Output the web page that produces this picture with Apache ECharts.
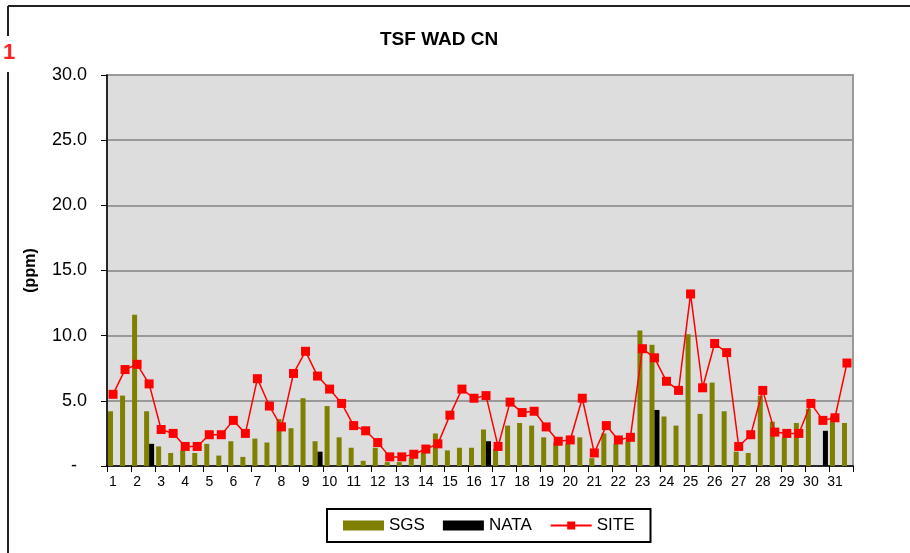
<!DOCTYPE html>
<html lang="en">
<head>
<meta charset="UTF-8"/>
<script src="https://cdn.jsdelivr.net/npm/echarts@6/dist/echarts.min.js"></script>
<title>TSF WAD CN</title>
<style>
  html, body { margin: 0; padding: 0; background: #fff; }
</style>
</head>
<body>
<div id="main" style="width:910px; height:553px;"></div>
<script type="text/javascript">
    // day labels (two samples per day)
    var days = ['1','2','3','4','5','6','7','8','9','10','11','12','13','14','15','16',
                '17','18','19','20','21','22','23','24','25','26','27','28','29','30','31'];

    var sgs = [4.2, 5.4, 11.6, 4.2, 1.5, 1.0, 1.2, 1.0, 1.7, 0.8,
               1.9, 0.7, 2.1, 1.8, 3.6, 2.9, 5.2, 1.9, 4.6, 2.2,
               1.4, 0.4, 1.4, 0.3, 0.3, 0.6, 1.0, 2.5, 1.2, 1.4,
               1.4, 2.8, 1.3, 3.1, 3.3, 3.1, 2.2, 1.8, 1.7, 2.2,
               0.6, 2.5, 1.7, 1.9, 10.4, 9.3, 3.8, 3.1, 10.1, 4.0,
               6.4, 4.2, 1.1, 1.0, 5.4, 3.4, 2.2, 3.3, 4.4, null,
               3.8, 3.3];

    var nata = [null, null, null, 1.7, null, null, null, null, null, null,
                null, null, null, null, null, null, null, 1.1, null, null,
                null, null, null, null, null, null, null, null, null, null,
                null, 1.9, null, null, null, null, null, null, null, null,
                null, null, null, null, null, 4.3, null, null, null, null,
                null, null, null, null, null, null, null, null, null, 2.7,
                null, null];

    var site = [5.5, 7.4, 7.8, 6.3, 2.8, 2.5, 1.5, 1.5, 2.4, 2.4,
                3.5, 2.5, 6.7, 4.6, 3.0, 7.1, 8.8, 6.9, 5.9, 4.8,
                3.1, 2.7, 1.8, 0.7, 0.7, 0.9, 1.3, 1.7, 3.9, 5.9,
                5.2, 5.4, 1.5, 4.9, 4.1, 4.2, 3.0, 1.9, 2.0, 5.2,
                1.0, 3.1, 2.0, 2.2, 9.0, 8.3, 6.5, 5.8, 13.2, 6.0,
                9.4, 8.7, 1.5, 2.4, 5.8, 2.6, 2.5, 2.5, 4.8, 3.5,
                3.7, 7.9];

    var categories = [];
    for (var i = 0; i < days.length; i++) {
        categories.push(days[i], days[i]);
    }

    var font = 'Liberation Sans, Arial, sans-serif';
    var myChart = echarts.init(document.getElementById('main'));

    var option = {
        animation: false,
        backgroundColor: '#ffffff',
        textStyle: { fontFamily: font },
        title: {
            text: 'TSF WAD CN',
            left: 380,
            top: 30,
            padding: 0,
            textStyle: { fontSize: 19, fontWeight: 'bold', color: '#000', fontFamily: font }
        },
        legend: {
            left: 327,
            top: 509,
            padding: [8, 16, 8, 16],
            itemGap: 18,
            itemWidth: 41,
            itemHeight: 10,
            borderColor: '#000',
            borderWidth: 2,
            textStyle: { fontSize: 17, color: '#000', fontFamily: font },
            data: [{ name: 'SGS', icon: 'rect' }, { name: 'NATA', icon: 'rect' }, 'SITE']
        },
        grid: {
            left: 107,
            right: 57,
            top: 75,
            bottom: 87,
            show: true,
            backgroundColor: '#dddddd',
            borderColor: '#999999',
            borderWidth: 2
        },
        xAxis: {
            type: 'category',
            data: categories,
            boundaryGap: true,
            axisLine: { show: true, lineStyle: { color: '#000', width: 1.5 } },
            axisTick: { show: true, interval: 1, alignWithLabel: false, length: 6, lineStyle: { color: '#000' } },
            axisLabel: { interval: 1, margin: 9, fontSize: 14, color: '#000', fontFamily: font },
            splitLine: { show: false }
        },
        yAxis: {
            type: 'value',
            min: 0,
            max: 30,
            interval: 5,
            name: '(ppm)',
            nameLocation: 'middle',
            nameRotate: 90,
            nameGap: 68,
            nameTextStyle: { fontSize: 16, fontWeight: 'bold', color: '#000', fontFamily: font },
            axisLine: { show: true, lineStyle: { color: '#000', width: 1.5 } },
            axisTick: { show: true, length: 6, lineStyle: { color: '#000' } },
            axisLabel: {
                margin: 20,
                fontSize: 18,
                color: '#000',
                fontFamily: font,
                formatter: function (v) { return v === 0 ? '-  ' : v.toFixed(1); }
            },
            splitLine: { show: true, lineStyle: { color: '#999999', width: 2 } }
        },
        series: [
            {
                name: 'SGS',
                type: 'bar',
                data: sgs,
                barWidth: 5,
                barGap: '0%',
                itemStyle: { color: '#808000' }
            },
            {
                name: 'NATA',
                type: 'bar',
                data: nata,
                barWidth: 5,
                barGap: '0%',
                itemStyle: { color: '#000000' }
            },
            {
                name: 'SITE',
                type: 'line',
                data: site,
                symbol: 'rect',
                symbolSize: 9,
                showAllSymbol: true,
                z: 5,
                lineStyle: { color: '#ff0000', width: 1.5 },
                itemStyle: { color: '#ff0000' }
            }
        ],
        graphic: [
            { type: 'line', shape: { x1: 8, y1: 6, x2: 910, y2: 6 }, style: { stroke: '#222', lineWidth: 2 } },
            { type: 'line', shape: { x1: 8, y1: 6, x2: 8, y2: 36 }, style: { stroke: '#222', lineWidth: 2 } },
            { type: 'line', shape: { x1: 8, y1: 72, x2: 8, y2: 553 }, style: { stroke: '#222', lineWidth: 2 } },
            {
                type: 'text', left: 3, top: 42,
                style: { text: '1', fill: '#ff2020', font: 'bold 22px Liberation Sans, Arial, sans-serif' }
            }
        ]
    };

    myChart.setOption(option);
</script>
</body>
</html>
